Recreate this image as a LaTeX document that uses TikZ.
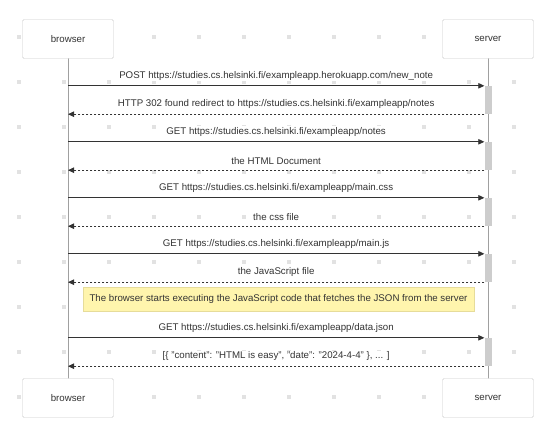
\documentclass[tikz,border=0pt]{standalone}
\usepackage{fontspec}
\setmainfont{Liberation Sans}
\usetikzlibrary{arrows.meta}
\definecolor{ink}{HTML}{333333}
\definecolor{boxline}{HTML}{CCCCCC}
\definecolor{lifeline}{HTML}{A0A0A0}
\definecolor{barfill}{HTML}{CDCDCD}
\definecolor{dotcol}{HTML}{E2E2E2}
\definecolor{notefill}{HTML}{FFF5AD}
\definecolor{noteline}{HTML}{E6DC9A}
\tikzset{
  actor/.style={draw=boxline, fill=white, rounded corners=1.5pt,
    minimum width=91pt, minimum height=39pt, text=ink,
    font=\fontsize{9.7}{11}\selectfont},
  actbar/.style={fill=barfill, minimum width=7pt, minimum height=28pt,
    inner sep=0pt},
  msg/.style={draw=ink, line width=0.8pt, -{Triangle[length=6pt,width=5.5pt]}},
  reply/.style={msg, dash pattern=on 2pt off 2pt},
  lbl/.style={fill=white, inner sep=1pt, text=ink, above=4pt,
    font=\fontsize{9.7}{11}\selectfont},
  note/.style={draw=noteline, fill=notefill, minimum width=391pt,
    minimum height=24pt, text=ink, font=\fontsize{9.7}{11}\selectfont}
}
\begin{document}
\begin{tikzpicture}[x=1pt,y=-1pt]
  \useasboundingbox (0,0) rectangle (544,427);
  % grid of the canvas
  \foreach \i in {0,...,11}
    \foreach \j in {0,...,8}
      \fill[dotcol] (17+45*\i,35+45*\j) rectangle ++(4,4);

  % lifelines
  \coordinate (btopend) at (68,58);
  \coordinate (bbotend) at (68,379);
  \coordinate (stopend) at (488,58);
  \coordinate (sbotend) at (488,379);
  \draw[lifeline, line width=1pt] (btopend) -- (bbotend);
  \draw[lifeline, line width=1pt] (stopend) -- (sbotend);

  \node[actor] (btop) at (68,39) {browser};
  \node[actor] (stop) at (488,39) {server};
  \node[actor] (bbot) at (68,398) {browser};
  \node[actor] (sbot) at (488,398) {server};

  % activations on the server
  \node[actbar] (act1) at (488,100) {};
  \node[actbar] (act2) at (488,156) {};
  \node[actbar] (act3) at (488,212) {};
  \node[actbar] (act4) at (488,268) {};
  \node[actbar] (act5) at (488,352) {};

  % messages
  \draw[msg] (btop |- act1.north west) -- node[lbl] (m1)
    {POST https://studies.cs.helsinki.fi/exampleapp.herokuapp.com/new\_note} (act1.north west);
  \draw[reply] (act1.south west) -- node[lbl] (m2)
    {HTTP 302 found redirect to https://studies.cs.helsinki.fi/exampleapp/notes} (btop |- act1.south west);
  \draw[msg] (btop |- act2.north west) -- node[lbl] (m3)
    {GET https://studies.cs.helsinki.fi/exampleapp/notes} (act2.north west);
  \draw[reply] (act2.south west) -- node[lbl] (m4)
    {the HTML Document} (btop |- act2.south west);
  \draw[msg] (btop |- act3.north west) -- node[lbl] (m5)
    {GET https://studies.cs.helsinki.fi/exampleapp/main.css} (act3.north west);
  \draw[reply] (act3.south west) -- node[lbl] (m6)
    {the css file} (btop |- act3.south west);
  \draw[msg] (btop |- act4.north west) -- node[lbl] (m7)
    {GET https://studies.cs.helsinki.fi/exampleapp/main.js} (act4.north west);
  \draw[reply] (act4.south west) -- node[lbl] (m8)
    {the JavaScript file} (btop |- act4.south west);

  \node[note] (jsnote) at (278.5,299)
    {The browser starts executing the JavaScript code that fetches the JSON from the server};

  \draw[msg] (btop |- act5.north west) -- node[lbl] (m9)
    {GET https://studies.cs.helsinki.fi/exampleapp/data.json} (act5.north west);
  \draw[reply] (act5.south west) -- node[lbl] (m10)
    {[\{ "content": "HTML is easy", "date": "2024-4-4" \}, ... ]} (btop |- act5.south west);
\end{tikzpicture}
\end{document}
